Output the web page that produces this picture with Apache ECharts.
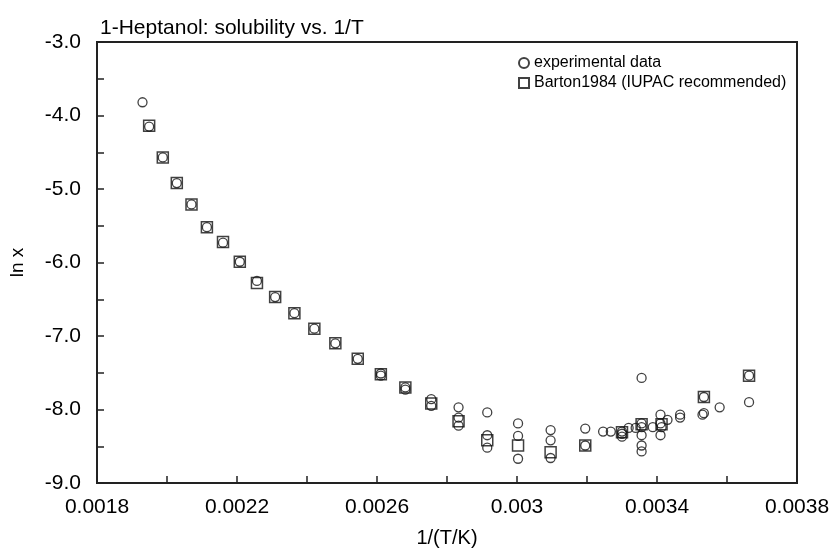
<!DOCTYPE html>
<html>
<head>
<meta charset="utf-8">
<script src="https://cdn.jsdelivr.net/npm/echarts@6/dist/echarts.min.js"></script>
<style>html,body{margin:0;padding:0;background:#fff;}#c{width:833px;height:559px;}</style>
</head>
<body>
<div id="c"></div>
<script>
// experimental data: [1/(T/K), ln x]
const experimental = [
  [0.001930,-3.82],
  [0.001949,-4.15],[0.001988,-4.57],[0.002028,-4.92],[0.002070,-5.21],[0.002114,-5.52],
  [0.002160,-5.73],[0.002208,-5.99],[0.002257,-6.25],[0.002309,-6.47],[0.002364,-6.69],
  [0.002421,-6.90],[0.002481,-7.10],[0.002545,-7.31],[0.002611,-7.51],[0.002611,-7.54],
  [0.002681,-7.70],[0.002681,-7.73],[0.002755,-7.86],[0.002755,-7.95],
  [0.002833,-7.97],[0.002833,-8.11],[0.002833,-8.22],
  [0.002915,-8.04],[0.002915,-8.35],[0.002915,-8.52],
  [0.003003,-8.19],[0.003003,-8.36],[0.003003,-8.67],
  [0.003096,-8.28],[0.003096,-8.42],[0.003096,-8.66],
  [0.003195,-8.26],[0.003195,-8.49],
  [0.003246,-8.30],[0.003268,-8.30],[0.003300,-8.30],[0.003300,-8.33],[0.003300,-8.37],
  [0.003319,-8.25],[0.003339,-8.25],
  [0.003356,-7.57],[0.003356,-8.19],[0.003356,-8.24],[0.003356,-8.35],[0.003356,-8.49],[0.003356,-8.57],
  [0.003388,-8.24],
  [0.003410,-8.07],[0.003410,-8.19],[0.003413,-8.24],[0.003410,-8.35],
  [0.003430,-8.14],
  [0.003466,-8.07],[0.003466,-8.11],
  [0.003534,-7.83],[0.003530,-8.07],[0.003534,-8.05],
  [0.003579,-7.97],
  [0.003663,-7.54],[0.003663,-7.90]
];
// Barton1984 (IUPAC recommended): [1/(T/K), ln x]
const barton = [
  [0.001949,-4.14],[0.001988,-4.57],[0.002028,-4.92],[0.002070,-5.21],[0.002114,-5.52],
  [0.002160,-5.72],[0.002208,-5.99],[0.002257,-6.28],[0.002309,-6.47],[0.002364,-6.69],
  [0.002421,-6.90],[0.002481,-7.10],[0.002545,-7.31],[0.002611,-7.52],[0.002681,-7.70],
  [0.002755,-7.92],[0.002833,-8.16],[0.002915,-8.42],[0.003003,-8.49],[0.003096,-8.58],
  [0.003195,-8.49],[0.003300,-8.31],[0.003356,-8.20],[0.003413,-8.20],[0.003534,-7.83],
  [0.003663,-7.54]
];
const xTickLabels = ['0.0018','0.0022','0.0026','0.003','0.0034','0.0038'];
const yTickLabels = ['-9.0','-8.0','-7.0','-6.0','-5.0','-4.0','-3.0'];
const seriesNames = ['experimental data','Barton1984 (IUPAC recommended)'];
const titleText = '1-Heptanol: solubility vs. 1/T';

const FONT = 'Liberation Sans, Arial, sans-serif';
const chart = echarts.init(document.getElementById('c'), null, {renderer:'canvas'});
chart.setOption({
  animation:false,
  backgroundColor:'#fff',
  title:{text:titleText,left:95,top:13,textStyle:{fontFamily:FONT,fontSize:21,fontWeight:'normal',color:'#000'}},
  legend:{
    orient:'vertical',left:513,top:50,itemGap:4,itemWidth:10,itemHeight:10,
    textStyle:{fontFamily:FONT,fontSize:16,color:'#000'},
    data:[{name:seriesNames[0],icon:'circle'},{name:seriesNames[1],icon:'rect'}]
  },
  grid:{left:92,right:36,top:42,bottom:76,show:true,borderColor:'#222',borderWidth:2,backgroundColor:'#fff'},
  xAxis:{
    type:'value',min:0.0018,max:0.0038,interval:0.0004,
    name:'1/(T/K)',nameLocation:'middle',nameGap:45,
    nameTextStyle:{fontFamily:FONT,fontSize:20,color:'#000'},
    axisLine:{show:true,onZero:false,lineStyle:{color:'#222',width:2}},
    axisTick:{show:true,inside:true,length:7,lineStyle:{color:'#222',width:1.5}},
    minorTick:{show:true,splitNumber:2,length:7,lineStyle:{color:'#222',width:1.5}},
    splitLine:{show:false},
    axisLabel:{margin:14,fontFamily:FONT,fontSize:21,color:'#000',
      formatter:function(v){const i=Math.round((v-0.0018)/0.0004);return xTickLabels[i]||'';}}
  },
  yAxis:{
    type:'value',min:-9,max:-3,interval:1,
    name:'ln x',nameLocation:'middle',nameGap:70,
    nameTextStyle:{fontFamily:FONT,fontSize:19,color:'#000'},
    axisLine:{show:true,onZero:false,lineStyle:{color:'#222',width:2}},
    axisTick:{show:true,inside:true,length:7,lineStyle:{color:'#222',width:1.5}},
    minorTick:{show:true,splitNumber:2,length:7,lineStyle:{color:'#222',width:1.5}},
    splitLine:{show:false},
    axisLabel:{margin:16,fontFamily:FONT,fontSize:21,color:'#000',
      formatter:function(v){const i=Math.round(v+9);return yTickLabels[i]||'';}}
  },
  series:[
    {name:seriesNames[1],type:'scatter',data:barton,symbol:'rect',symbolSize:11,z:2,
     itemStyle:{color:'rgba(255,255,255,0)',borderColor:'#111',borderWidth:1.5}},
    {name:seriesNames[0],type:'scatter',data:experimental,symbol:'circle',symbolSize:9,z:3,
     itemStyle:{color:'rgba(255,255,255,0)',borderColor:'#111',borderWidth:1.3}}
  ]
});
</script>
</body>
</html>
